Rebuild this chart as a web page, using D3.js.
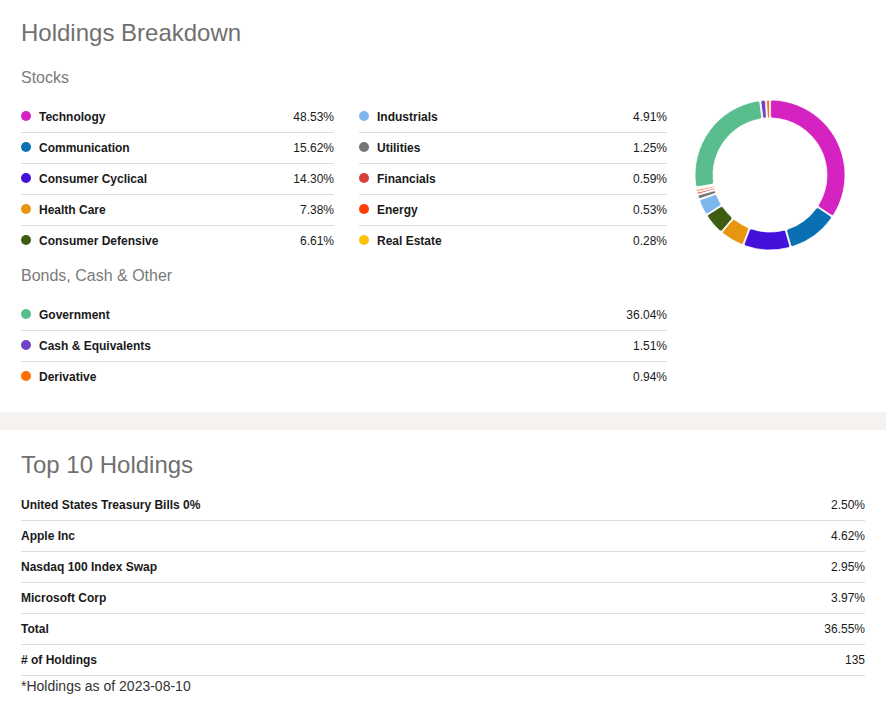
<!DOCTYPE html>
<html><head><meta charset="utf-8">
<script src="https://cdn.jsdelivr.net/npm/d3@7"></script>
<style>
body{margin:0;background:#fff;}
svg{display:block;font-family:"Liberation Sans",Arial,sans-serif;}
</style></head>
<body>
<svg id="c" width="886" height="715"></svg>
<script>
const stockSectors = ["Technology","Communication","Consumer Cyclical","Health Care","Consumer Defensive","Industrials","Utilities","Financials","Energy","Real Estate"];
const stockValues = [48.53,15.62,14.30,7.38,6.61,4.91,1.25,0.59,0.53,0.28];
const stockColors = ["#d423c0","#0b6fb4","#4311d9","#e8950f","#3e5c12","#7eb7ee","#757575","#d5403a","#ff3d00","#ffc107"];
const otherCats = ["Government","Cash & Equivalents","Derivative"];
const otherValues = [36.04,1.51,0.94];
const otherColors = ["#5abd8e","#7043c8","#ff6d00"];
const holdingNames = ["United States Treasury Bills 0%","Apple Inc","Nasdaq 100 Index Swap","Microsoft Corp","Total","# of Holdings"];
const holdingValues = ["2.50%","4.62%","2.95%","3.97%","36.55%","135"];
const footnote = "*Holdings as of 2023-08-10";

const svg = d3.select("#c");
const fmt = v => v.toFixed(2) + "%";

svg.append("text").attr("x",21).attr("y",41).attr("font-size",24).attr("fill","#707070").text("Holdings Breakdown");
svg.append("text").attr("x",21).attr("y",83).attr("font-size",16).attr("fill","#7a7a7a").text("Stocks");

function rows(names, values, colors, x0, x1, yScale, lastLine, bold, showDot){
  const g = svg.append("g");
  names.forEach((n,i)=>{
    const y = yScale(i);
    if(showDot) g.append("circle").attr("cx",x0+5).attr("cy",y).attr("r",5).attr("fill",colors[i]);
    g.append("text").attr("x",showDot?x0+18:x0).attr("y",y+5).attr("font-size",12).attr("font-weight","bold").attr("fill","#1a1a1a").text(n);
    g.append("text").attr("x",x1).attr("y",y+5).attr("text-anchor","end").attr("font-size",12).attr("fill","#1a1a1a").text(typeof values[i]==="number"?fmt(values[i]):values[i]);
    if(i<names.length-1 || lastLine) g.append("line").attr("x1",x0).attr("x2",x1).attr("y1",y+16.5).attr("y2",y+16.5).attr("stroke","#dcdcdc").attr("stroke-width",1);
  });
}
const rowY = d3.scaleLinear().domain([0,1]).range([116,147]);
rows(stockSectors.slice(0,5), stockValues.slice(0,5), stockColors.slice(0,5), 21, 334, rowY, false, true, true);
rows(stockSectors.slice(5), stockValues.slice(5), stockColors.slice(5), 359, 667, rowY, false, true, true);

svg.append("text").attr("x",21).attr("y",281).attr("font-size",16).attr("fill","#7a7a7a").text("Bonds, Cash & Other");
const rowY2 = d3.scaleLinear().domain([0,1]).range([314,345]);
rows(otherCats, otherValues, otherColors, 21, 667, rowY2, false, true, true);

// donut
const allCats = stockSectors.concat(otherCats);
const allVals = stockValues.concat(otherValues);
const allCols = stockColors.concat(otherColors);
const pie = d3.pie().sort(null).value(d=>d.v).padAngle(0.012);
const arc = d3.arc().innerRadius(57).outerRadius(75).cornerRadius(2);
const data = allCats.map((c,i)=>({c, v:allVals[i], col:allCols[i]}));
svg.append("g").attr("transform","translate(770,175)")
  .selectAll("path").data(pie(data)).join("path")
  .attr("d",arc).attr("fill",d=>d.data.col).attr("stroke","#fff").attr("stroke-width",0.8);

// grey band
svg.append("rect").attr("x",0).attr("y",412).attr("width",886).attr("height",18).attr("fill","#f5f2f0");

svg.append("text").attr("x",21).attr("y",473).attr("font-size",24).attr("fill","#707070").text("Top 10 Holdings");
const rowY3 = d3.scaleLinear().domain([0,1]).range([504,535]);
rows(holdingNames, holdingValues, null, 21, 865, rowY3, true, true, false);
svg.append("text").attr("x",21).attr("y",691).attr("font-size",14).attr("fill","#333").text(footnote);
</script>
</body></html>
